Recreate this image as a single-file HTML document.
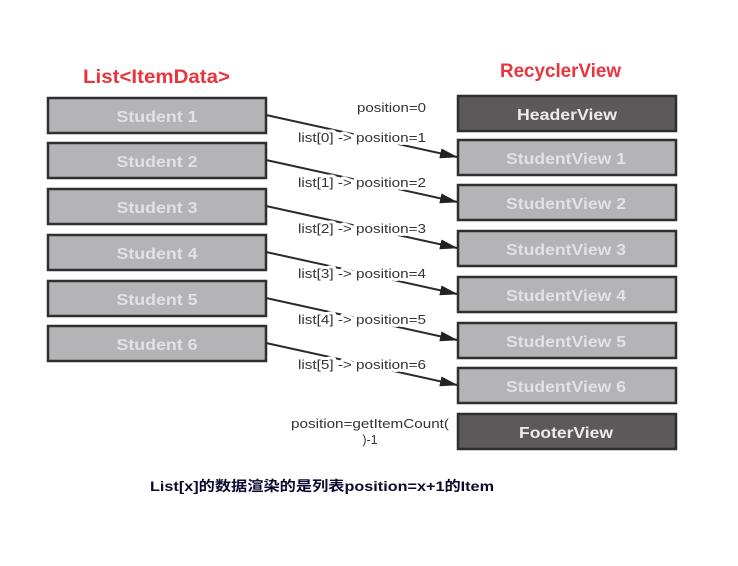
<!DOCTYPE html>
<html><head><meta charset="utf-8"><style>
html,body{margin:0;padding:0;background:#fff;}
svg{display:block;}
.box{font-family:"Liberation Sans",sans-serif;font-weight:bold;font-size:16px;fill:#e2e2e2;text-anchor:middle;}
.lbl{font-family:"Liberation Sans",sans-serif;font-size:12.5px;fill:#333;paint-order:stroke;stroke:#fff;stroke-width:6px;stroke-linejoin:round;}
</style></head><body>
<svg width="738" height="566" viewBox="0 0 738 566" xmlns="http://www.w3.org/2000/svg">
<defs><marker id="ah" markerWidth="18" markerHeight="10" refX="17" refY="5" orient="auto" markerUnits="userSpaceOnUse"><path d="M0,0 L18,5 L0,10 Z" fill="#222"/></marker></defs>
<text x="83" y="83" textLength="147" lengthAdjust="spacingAndGlyphs" style="font-family:'Liberation Sans',sans-serif;font-weight:bold;font-size:19px;fill:#e8343c">List&lt;ItemData&gt;</text>
<text x="500" y="77" textLength="121" lengthAdjust="spacingAndGlyphs" style="font-family:'Liberation Sans',sans-serif;font-weight:bold;font-size:19px;fill:#e8343c">RecyclerView</text>

<g stroke="#2f2f2f" stroke-width="2.5">
<rect x="48" y="98" width="218" height="35" fill="#b4b3b5"/>
<rect x="48" y="143" width="218" height="35" fill="#b4b3b5"/>
<rect x="48" y="189" width="218" height="35" fill="#b4b3b5"/>
<rect x="48" y="235" width="218" height="35" fill="#b4b3b5"/>
<rect x="48" y="281" width="218" height="35" fill="#b4b3b5"/>
<rect x="48" y="326" width="218" height="35" fill="#b4b3b5"/>
<rect x="458" y="96" width="218" height="35" fill="#5b595a"/>
<rect x="458" y="140" width="218" height="35" fill="#b4b3b5"/>
<rect x="458" y="185" width="218" height="35" fill="#b4b3b5"/>
<rect x="458" y="231" width="218" height="35" fill="#b4b3b5"/>
<rect x="458" y="277" width="218" height="35" fill="#b4b3b5"/>
<rect x="458" y="323" width="218" height="35" fill="#b4b3b5"/>
<rect x="458" y="368" width="218" height="35" fill="#b4b3b5"/>
<rect x="458" y="414" width="218" height="35" fill="#5b595a"/>
</g>
<g class="box">
<text x="157" y="122" textLength="81" lengthAdjust="spacingAndGlyphs">Student 1</text>
<text x="157" y="167" textLength="81" lengthAdjust="spacingAndGlyphs">Student 2</text>
<text x="157" y="213" textLength="81" lengthAdjust="spacingAndGlyphs">Student 3</text>
<text x="157" y="259" textLength="81" lengthAdjust="spacingAndGlyphs">Student 4</text>
<text x="157" y="305" textLength="81" lengthAdjust="spacingAndGlyphs">Student 5</text>
<text x="157" y="350" textLength="81" lengthAdjust="spacingAndGlyphs">Student 6</text>
<text x="567" y="120" textLength="100" lengthAdjust="spacingAndGlyphs" fill="#ececec">HeaderView</text>
<text x="566" y="164" textLength="120" lengthAdjust="spacingAndGlyphs">StudentView 1</text>
<text x="566" y="209" textLength="120" lengthAdjust="spacingAndGlyphs">StudentView 2</text>
<text x="566" y="255" textLength="120" lengthAdjust="spacingAndGlyphs">StudentView 3</text>
<text x="566" y="301" textLength="120" lengthAdjust="spacingAndGlyphs">StudentView 4</text>
<text x="566" y="347" textLength="120" lengthAdjust="spacingAndGlyphs">StudentView 5</text>
<text x="566" y="392" textLength="120" lengthAdjust="spacingAndGlyphs">StudentView 6</text>
<text x="566" y="438" textLength="94" lengthAdjust="spacingAndGlyphs" fill="#ececec">FooterView</text>
</g>

<g stroke="#2a2a2a" stroke-width="2" marker-end="url(#ah)">
<line x1="266" y1="115" x2="457" y2="157"/>
<line x1="266" y1="160" x2="457" y2="202"/>
<line x1="266" y1="206" x2="457" y2="248"/>
<line x1="266" y1="252" x2="457" y2="294"/>
<line x1="266" y1="298" x2="457" y2="340"/>
<line x1="266" y1="343" x2="457" y2="385"/>
</g>
<g class="lbl">
<text x="357" y="112" textLength="69" lengthAdjust="spacingAndGlyphs">position=0</text>
<text x="298" y="142" textLength="128" lengthAdjust="spacingAndGlyphs">list[0] -&gt; position=1</text>
<text x="298" y="187" textLength="128" lengthAdjust="spacingAndGlyphs">list[1] -&gt; position=2</text>
<text x="298" y="233" textLength="128" lengthAdjust="spacingAndGlyphs">list[2] -&gt; position=3</text>
<text x="298" y="278" textLength="128" lengthAdjust="spacingAndGlyphs">list[3] -&gt; position=4</text>
<text x="298" y="324" textLength="128" lengthAdjust="spacingAndGlyphs">list[4] -&gt; position=5</text>
<text x="298" y="369" textLength="128" lengthAdjust="spacingAndGlyphs">list[5] -&gt; position=6</text>
<text x="291" y="428" textLength="158" lengthAdjust="spacingAndGlyphs">position=getItemCount(</text>
<text x="370" y="444" text-anchor="middle">)-1</text>
</g>
<text x="150" y="491" textLength="344" lengthAdjust="spacingAndGlyphs" style="font-family:'Liberation Sans','Noto Sans CJK SC',sans-serif;font-weight:bold;font-size:14px;fill:#0a0a30">List[x]的数据渲染的是列表position=x+1的Item</text>
</svg>
</body></html>
